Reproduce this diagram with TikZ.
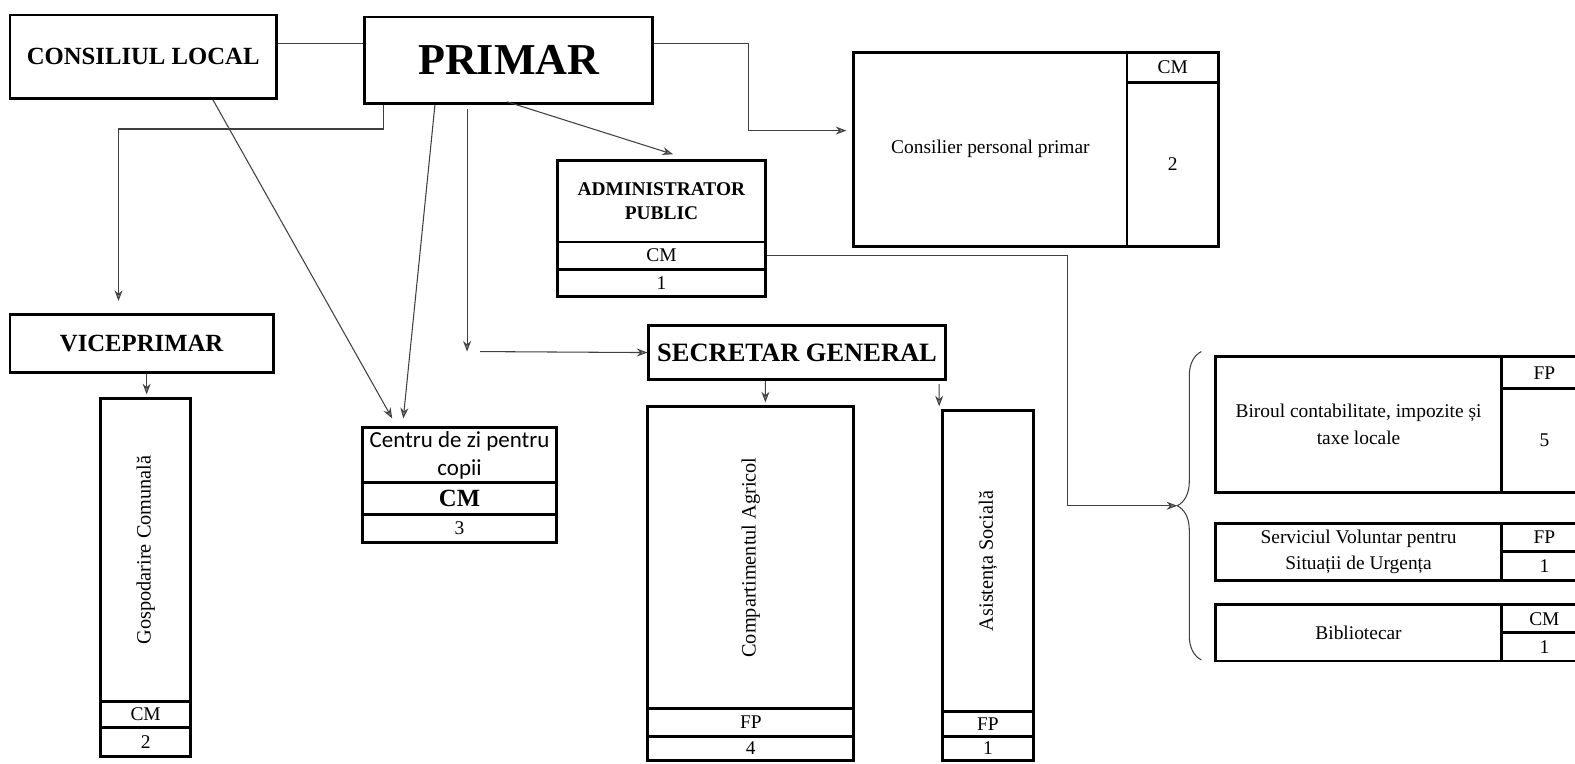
\documentclass[tikz,border=0pt]{standalone}
\usepackage{fontspec}
\setmainfont{Liberation Serif}
\newfontfamily\calibri{Carlito}
\usetikzlibrary{arrows.meta,calc,decorations.pathreplacing}

\begin{document}
\begin{tikzpicture}[x=0.2mm, y=-0.2mm,
        cutie/.style={draw=black, line width=1.6pt, inner sep=0pt, align=center, font=\fontsize{11}{15}\selectfont},
        dim/.style 2 args={minimum width=#1*0.2mm, minimum height=#2*0.2mm},
        titlu/.style={font=\bfseries\fontsize{14}{17}\selectfont},
        sageata/.style={draw=black!75, line width=0.6pt, -{Stealth[length=6pt, width=4.5pt, fill=black!45]}},
        legatura/.style={draw=black!75, line width=0.6pt}]
        \useasboundingbox (0,0) rectangle (1568,760);

        \node[cutie, titlu, dim={265}{83}] (consiliu) at (142.5, 56.5) {CONSILIUL LOCAL};
        \node[cutie, dim={287}{86}, font=\bfseries\fontsize{25}{30}\selectfont] (primar) at (506.5, 60) {PRIMAR};

        \node[cutie, dim={272}{193}] (consilier) at (986, 148.5) {Consilier personal primar};
        \node[cutie, dim={91}{30}] (consilierCM) at (1167.5, 67) {CM};
        \node[cutie, dim={91}{163}] (consilierNr) at (1167.5, 163.5) {2};

        \node[cutie, dim={207}{81}, font=\bfseries\fontsize{11}{13.6}\selectfont] (admin) at (658.5, 200.5) {ADMINISTRATOR\\PUBLIC};
        \node[cutie, dim={207}{27}] (adminCM) at (658.5, 254.5) {CM};
        \node[cutie, dim={207}{27}] (adminNr) at (658.5, 281.5) {1};

        \node[cutie, titlu, dim={262}{58}] (vice) at (141, 342) {VICEPRIMAR};
        \node[cutie, dim={90}{301}] (gosp) at (145, 547.5) {};
        \node[rotate=90, font=\fontsize{11.5}{14}\selectfont] (gospText) at (gosp.center) {Gospodarire Comunală};
        \node[cutie, dim={90}{26}] (gospCM) at (145, 711) {CM};
        \node[cutie, dim={90}{29}] (gospNr) at (145, 738.5) {2};

        \node[cutie, dim={193}{54}, font=\calibri\fontsize{13}{16}\selectfont] (centru) at (457.5, 453) {Centru de zi pentru\\copii};
        \node[cutie, dim={193}{32}, font=\bfseries\fontsize{14}{17}\selectfont] (centruCM) at (457.5, 496) {CM};
        \node[cutie, dim={193}{28}] (centruNr) at (457.5, 526) {3};

        \node[cutie, dim={295}{54}, font=\bfseries\fontsize{15}{18}\selectfont] (secretar) at (793.5, 351) {SECRETAR GENERAL};
        \node[cutie, dim={205}{300}] (agricol) at (747.5, 555) {};
        \node[rotate=90, font=\fontsize{11.5}{14}\selectfont] (agricolText) at (agricol.center) {Compartimentul Agricol};
        \node[cutie, dim={205}{28}] (agricolFP) at (747.5, 719) {FP};
        \node[cutie, dim={205}{24}] (agricolNr) at (747.5, 745) {4};
        \node[cutie, dim={91}{299}] (asist) at (983.5, 558.5) {};
        \node[rotate=90, font=\fontsize{11.5}{14}\selectfont] (asistText) at (asist.center) {Asistența Socială};
        \node[cutie, dim={91}{25}] (asistFP) at (983.5, 720.5) {FP};
        \node[cutie, dim={91}{24}] (asistNr) at (983.5, 745) {1};

        % compartimente in subordinea administratorului
        \node[cutie, dim={285}{135}] (birou) at (1352.5, 422.5) {Biroul contabilitate, impozite și\\taxe locale};
        \node[cutie, dim={85}{32}] (birouFP) at (1537.5, 371) {FP};
        \node[cutie, dim={85}{103}] (birouNr) at (1537.5, 438.5) {5};
        \node[cutie, dim={285}{57}] (serviciu) at (1352.5, 549.5) {Serviciul Voluntar pentru\\Situații de Urgența};
        \node[cutie, dim={85}{28}] (serviciuFP) at (1537.5, 535) {FP};
        \node[cutie, dim={85}{29}] (serviciuNr) at (1537.5, 563.5) {1};
        \node[cutie, dim={285}{56}] (biblio) at (1352.5, 630) {Bibliotecar};
        \node[cutie, dim={85}{28}] (biblioCM) at (1537.5, 616) {CM};
        \node[cutie, dim={85}{28}] (biblioNr) at (1537.5, 644) {1};

        \coordinate (acoladaSus) at (1196, 350);
        \coordinate (acoladaJos) at (1196, 657);
        \coordinate (acolada) at (1172, 503.5);
        \draw[legatura, decorate, decoration={brace, amplitude=4.8mm}] (acoladaJos) -- (acoladaSus);

        \draw[legatura] ($(consiliu.east)+(0,-13.5)$) to ($(primar.west)+(0,-17)$);
        \draw[sageata] ($(primar.east)+(0,-17)$) -| (745, 130) -- ($(consilier.west)+(-6,-18.5)$);
        \draw[sageata] ($(primar.south)+(-1.5,-3)$) to ($(admin.north)+(11.5,-5)$);
        \draw[sageata] ($(primar.south)+(-124.5,0)$) -- ++(0,24) -| ($(vice.north)+(-23,-12)$);
        \draw[sageata] ($(consiliu.south)+(69.5,0)$) to ($(centru.north)+(-67,-8)$);
        \draw[sageata] ($(primar.south)+(-73.5,0)$) to ($(centru.north)+(-56,-8)$);

        \coordinate (cot) at (465, 350);
        \draw[sageata] ($(primar.south)+(-41.5,4)$) to (cot);
        \draw[sageata] ($(cot)+(13,0)$) to (secretar.west);

        \draw[sageata] ($(vice.south)+(5,0)$) to ($(gosp.north)+(1,-3)$);
        \draw[sageata] ($(secretar.south)+(-31.5,0)$) to ($(agricol.north)+(14.5,-3)$);
        \draw[sageata] ($(secretar.south)+(141.5,3)$) to ($(asist.north)+(-48.5,-3)$);

        \draw[sageata] (adminCM.east) -| (1063, 503.5) -- (acolada);
    \end{tikzpicture}
\end{document}
